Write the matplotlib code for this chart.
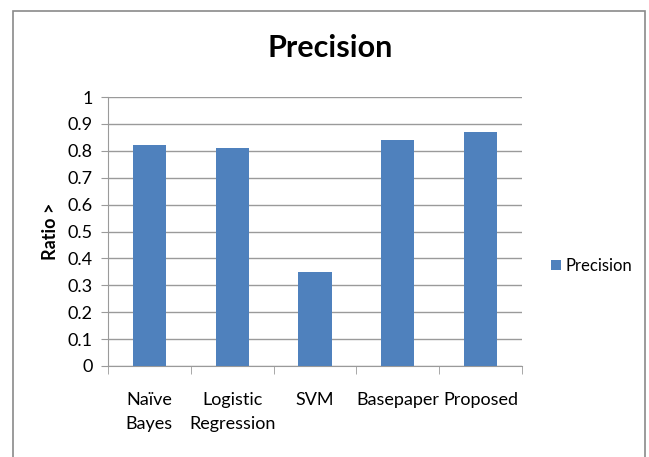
import matplotlib.pyplot as plt
from matplotlib.patches import Rectangle

# Dados do gráfico
categorias = ["Naïve\nBayes", "Logistic\nRegression", "SVM", "Basepaper", "Proposed"]
precisao = [0.82, 0.81, 0.35, 0.84, 0.87]
yticks = [0, 0.1, 0.2, 0.3, 0.4, 0.5, 0.6, 0.7, 0.8, 0.9, 1]
ytick_labels = ["0", "0.1", "0.2", "0.3", "0.4", "0.5", "0.6", "0.7", "0.8", "0.9", "1"]

plt.rcParams['font.family'] = ["Lato", "DejaVu Sans"]
cinza = "#9a9a9a"
azul = "#4F81BD"

fig = plt.figure(figsize=(6.49, 4.57), dpi=100)
W, H = 649, 457

# Moldura do gráfico (estilo Excel)
fig.patches.append(Rectangle((13 / W, -0.05), (645 - 13) / W, 1.05 - 11 / H,
                             transform=fig.transFigure, fill=False,
                             edgecolor="#8a8a8a", linewidth=1.2))

ax = fig.add_axes([108 / W, 1 - 366 / H, 414 / W, (366 - 97) / H])
x = range(len(categorias))
ax.bar(x, precisao, width=0.4, color=azul, label="Precision", zorder=3)

ax.set_xlim(-0.5, len(categorias) - 0.5)
ax.set_ylim(0, 1)
ax.set_yticks(yticks)
ax.set_yticklabels(ytick_labels, fontsize=13)
ax.yaxis.grid(True, color=cinza, linewidth=1)
ax.set_axisbelow(True)

# Rótulos das categorias sem marca, marcas entre categorias
ax.set_xticks(list(x))
ax.set_xticklabels(categorias, fontsize=13, linespacing=1.6)
ax.tick_params(axis='x', length=0, pad=19)
ax.set_xticks([i - 0.5 for i in range(len(categorias) + 1)], minor=True)
ax.tick_params(axis='x', which='minor', length=6, color=cinza)
ax.tick_params(axis='y', length=5, color=cinza, pad=6)

for lado in ["top", "right"]:
    ax.spines[lado].set_visible(False)
ax.spines["left"].set_color(cinza)
ax.spines["bottom"].set_color(cinza)

ax.set_ylabel("Ratio >", fontsize=13, fontweight='bold', labelpad=6)
fig.text(330 / W, 1 - 48 / H, "Precision", ha='center', va='center',
         fontsize=22, fontweight='bold')

ax.legend(loc='center left', bbox_to_anchor=(536 / W, 1 - 266 / H),
          bbox_transform=fig.transFigure, frameon=False, fontsize=12,
          handlelength=0.6, handleheight=0.6, handletextpad=0.25)

fig.savefig("out.png", dpi=100)
